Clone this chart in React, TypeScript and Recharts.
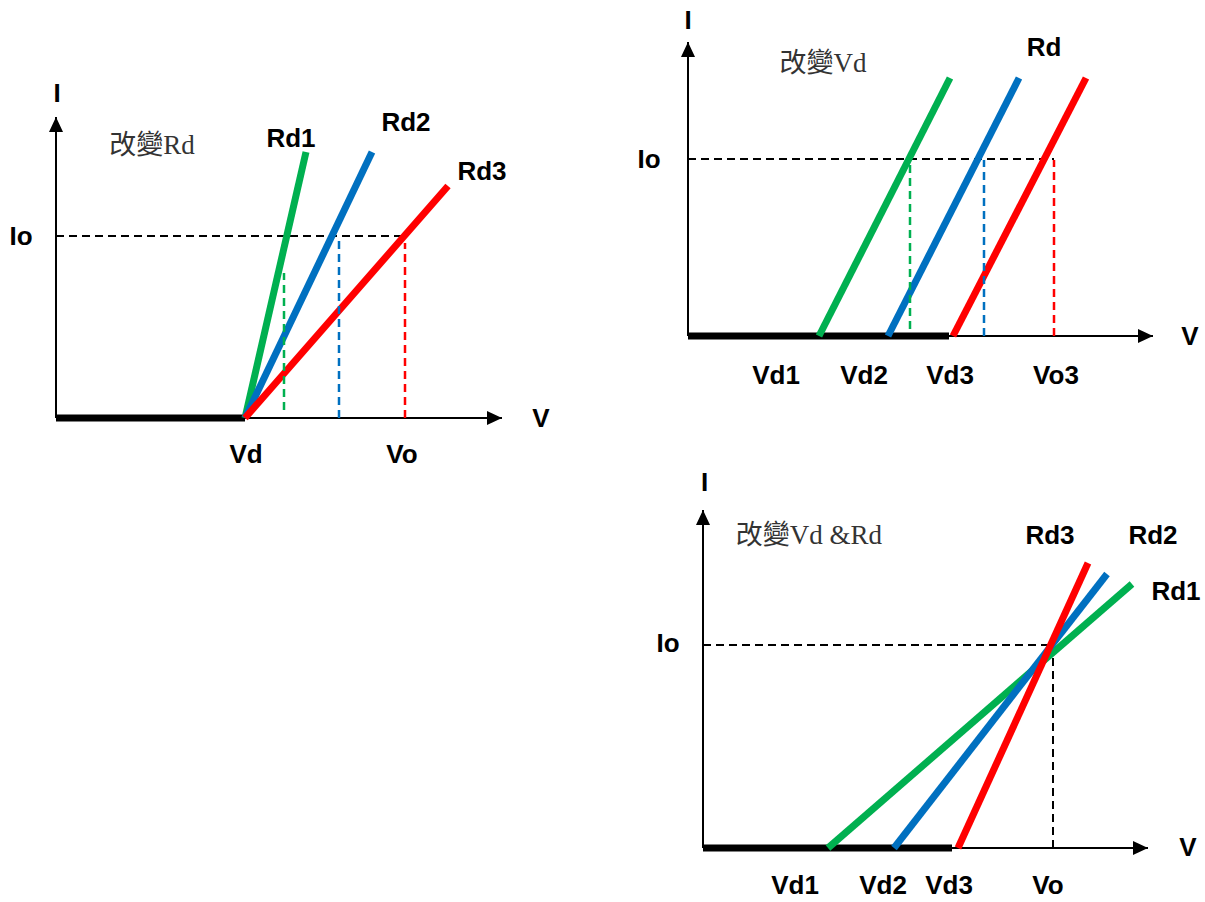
import { LineChart, Line, XAxis, YAxis, ReferenceDot } from 'recharts';

const GREEN = '#00b050';
const BLUE = '#0070c0';
const RED = '#ff0000';

type Pt = { v: number; i: number };
type Lbl = { text: string; v: number; i: number; kind: 'bold' | 'title' };

// ---- panel 1: 改變Rd (same Vd, three slopes) ----
const p1Knee: Pt[] = [{ v: 0, i: 0 }, { v: 189, i: 0 }];
const p1Rd1: Pt[] = [{ v: 189, i: 0 }, { v: 250, i: 266 }];
const p1Rd2: Pt[] = [{ v: 189, i: 0 }, { v: 316, i: 266 }];
const p1Rd3: Pt[] = [{ v: 189, i: 0 }, { v: 392, i: 232 }];
const p1Io: Pt[] = [{ v: 0, i: 182 }, { v: 349, i: 182 }];
const p1Drop1: Pt[] = [{ v: 228, i: 8 }, { v: 228, i: 145 }];
const p1Drop2: Pt[] = [{ v: 283, i: 0 }, { v: 283, i: 182 }];
const p1Drop3: Pt[] = [{ v: 349, i: 0 }, { v: 349, i: 175 }];
const p1Labels: Lbl[] = [
  { text: 'I', v: 1, i: 325, kind: 'bold' },
  { text: '改變Rd', v: 96, i: 273, kind: 'title' },
  { text: 'Rd1', v: 235, i: 280, kind: 'bold' },
  { text: 'Rd2', v: 350, i: 296, kind: 'bold' },
  { text: 'Rd3', v: 426, i: 247, kind: 'bold' },
  { text: 'Io', v: -35, i: 182, kind: 'bold' },
  { text: 'V', v: 485, i: 0, kind: 'bold' },
  { text: 'Vd', v: 190, i: -36, kind: 'bold' },
  { text: 'Vo', v: 346, i: -36, kind: 'bold' },
];

// ---- panel 2: 改變Vd (same slope, three knees) ----
const p2Knee: Pt[] = [{ v: 0, i: 0 }, { v: 261, i: 0 }];
const p2Vd1: Pt[] = [{ v: 131, i: 0 }, { v: 262, i: 258 }];
const p2Vd2: Pt[] = [{ v: 200, i: 0 }, { v: 331, i: 258 }];
const p2Vd3: Pt[] = [{ v: 265, i: 0 }, { v: 398, i: 258 }];
const p2Io: Pt[] = [{ v: 0, i: 177 }, { v: 366, i: 177 }];
const p2Drop1: Pt[] = [{ v: 222, i: 7 }, { v: 222, i: 172 }];
const p2Drop2: Pt[] = [{ v: 296, i: 0 }, { v: 296, i: 176 }];
const p2Drop3: Pt[] = [{ v: 366, i: 0 }, { v: 366, i: 176 }];
const p2Labels: Lbl[] = [
  { text: 'I', v: 0, i: 316, kind: 'bold' },
  { text: '改變Vd', v: 135, i: 273, kind: 'title' },
  { text: 'Rd', v: 356, i: 289, kind: 'bold' },
  { text: 'Io', v: -39, i: 177, kind: 'bold' },
  { text: 'V', v: 502, i: 0, kind: 'bold' },
  { text: 'Vd1', v: 88, i: -39, kind: 'bold' },
  { text: 'Vd2', v: 176, i: -39, kind: 'bold' },
  { text: 'Vd3', v: 262, i: -39, kind: 'bold' },
  { text: 'Vo3', v: 368, i: -39, kind: 'bold' },
];

// ---- panel 3: 改變Vd &Rd (all meet at Vo, Io) ----
const p3Knee: Pt[] = [{ v: 0, i: 0 }, { v: 249, i: 0 }];
const p3Rd1: Pt[] = [{ v: 125, i: 0 }, { v: 429, i: 264 }];
const p3Rd2: Pt[] = [{ v: 191, i: 0 }, { v: 404, i: 274 }];
const p3Rd3: Pt[] = [{ v: 255, i: 0 }, { v: 385, i: 285 }];
const p3Io: Pt[] = [{ v: 0, i: 203 }, { v: 350, i: 203 }];
const p3Drop: Pt[] = [{ v: 350, i: 0 }, { v: 350, i: 203 }];
const p3Labels: Lbl[] = [
  { text: 'I', v: 1.5, i: 366, kind: 'bold' },
  { text: '改變Vd &Rd', v: 106, i: 313, kind: 'title' },
  { text: 'Rd3', v: 347, i: 313, kind: 'bold' },
  { text: 'Rd2', v: 450, i: 313, kind: 'bold' },
  { text: 'Rd1', v: 473, i: 257, kind: 'bold' },
  { text: 'Io', v: -35, i: 205, kind: 'bold' },
  { text: 'V', v: 485, i: 1, kind: 'bold' },
  { text: 'Vd1', v: 92, i: -37, kind: 'bold' },
  { text: 'Vd2', v: 180, i: -37, kind: 'bold' },
  { text: 'Vd3', v: 246, i: -37, kind: 'bold' },
  { text: 'Vo', v: 345, i: -37, kind: 'bold' },
];

type Seg = { data: Pt[]; stroke: string; width: number; dash?: string };

const arrowDot = (dir: 'up' | 'right') => (props: any) => {
  const { cx, cy, index } = props;
  if (index !== 1) return <g key={`a${index}`} />;
  const pts =
    dir === 'right'
      ? `${cx},${cy} ${cx - 15},${cy - 7} ${cx - 15},${cy + 7}`
      : `${cx},${cy} ${cx - 7},${cy + 15} ${cx + 7},${cy + 15}`;
  return <polygon key={`a${index}`} points={pts} fill="#000" />;
};

const labelShape = (l: Lbl) => (p: any) =>
  (
    <text
      x={p.cx}
      y={p.cy}
      textAnchor="middle"
      dominantBaseline="central"
      fontFamily={
        l.kind === 'bold'
          ? "'Liberation Sans', Arial, sans-serif"
          : "'Liberation Serif', 'Noto Sans CJK TC', serif"
      }
      fontWeight={l.kind === 'bold' ? 'bold' : 'normal'}
      fontSize={l.kind === 'bold' ? 26 : 27}
      fill={l.kind === 'bold' ? '#000' : '#333'}
    >
      {l.text}
    </text>
  );

interface PanelProps {
  left: number;
  top: number;
  width: number;
  height: number;
  xDomain: [number, number];
  yDomain: [number, number];
  xEnd: number;
  yEnd: number;
  segs: Seg[];
  labels: Lbl[];
}

function Panel({ left, top, width, height, xDomain, yDomain, xEnd, yEnd, segs, labels }: PanelProps) {
  return (
    <div style={{ position: 'absolute', left, top }}>
      <LineChart width={width} height={height} margin={{ top: 0, right: 0, bottom: 0, left: 0 }}>
        <XAxis type="number" dataKey="v" domain={xDomain} allowDataOverflow hide />
        <YAxis type="number" domain={yDomain} allowDataOverflow hide />
        <Line
          data={[{ v: 0, i: 0 }, { v: xEnd, i: 0 }]}
          dataKey="i"
          stroke="#000"
          strokeWidth={2}
          dot={arrowDot('right')}
          activeDot={false}
          isAnimationActive={false}
        />
        <Line
          data={[{ v: 0, i: 0 }, { v: 0, i: yEnd }]}
          dataKey="i"
          stroke="#000"
          strokeWidth={2}
          dot={arrowDot('up')}
          activeDot={false}
          isAnimationActive={false}
        />
        {segs.map((s, k) => (
          <Line
            key={k}
            data={s.data}
            dataKey="i"
            type="linear"
            stroke={s.stroke}
            strokeWidth={s.width}
            strokeDasharray={s.dash}
            dot={false}
            activeDot={false}
            isAnimationActive={false}
          />
        ))}
        {labels.map((l, k) => (
          <ReferenceDot key={`l${k}`} x={l.v} y={l.i} r={0} shape={labelShape(l)} />
        ))}
      </LineChart>
    </div>
  );
}

const IO_DASH = '8 5';
const DROP_DASH = '8 5';

export default function App() {
  return (
    <div style={{ position: 'absolute', left: 0, top: 0, width: 1205, height: 902, background: '#fff' }}>
      <Panel
        left={0}
        top={60}
        width={580}
        height={440}
        xDomain={[-56, 524]}
        yDomain={[-82, 358]}
        xEnd={446}
        yEnd={301}
        segs={[
          { data: p1Io, stroke: '#000', width: 2, dash: IO_DASH },
          { data: p1Knee, stroke: '#000', width: 7 },
          { data: p1Rd1, stroke: GREEN, width: 7 },
          { data: p1Rd2, stroke: BLUE, width: 7 },
          { data: p1Rd3, stroke: RED, width: 7 },
          { data: p1Drop1, stroke: GREEN, width: 2.5, dash: DROP_DASH },
          { data: p1Drop2, stroke: BLUE, width: 2.5, dash: DROP_DASH },
          { data: p1Drop3, stroke: RED, width: 2.5, dash: DROP_DASH },
        ]}
        labels={p1Labels}
      />
      <Panel
        left={610}
        top={0}
        width={595}
        height={400}
        xDomain={[-78, 517]}
        yDomain={[-64, 336]}
        xEnd={465}
        yEnd={294}
        segs={[
          { data: p2Io, stroke: '#000', width: 2, dash: IO_DASH },
          { data: p2Knee, stroke: '#000', width: 7 },
          { data: p2Vd1, stroke: GREEN, width: 7 },
          { data: p2Vd2, stroke: BLUE, width: 7 },
          { data: p2Vd3, stroke: RED, width: 7 },
          { data: p2Drop1, stroke: GREEN, width: 2.5, dash: DROP_DASH },
          { data: p2Drop2, stroke: BLUE, width: 2.5, dash: DROP_DASH },
          { data: p2Drop3, stroke: RED, width: 2.5, dash: DROP_DASH },
        ]}
        labels={p2Labels}
      />
      <Panel
        left={620}
        top={460}
        width={585}
        height={442}
        xDomain={[-83, 502]}
        yDomain={[-54, 388]}
        xEnd={445}
        yEnd={338}
        segs={[
          { data: p3Io, stroke: '#000', width: 2, dash: IO_DASH },
          { data: p3Drop, stroke: '#000', width: 2, dash: IO_DASH },
          { data: p3Knee, stroke: '#000', width: 7 },
          { data: p3Rd1, stroke: GREEN, width: 7 },
          { data: p3Rd2, stroke: BLUE, width: 7 },
          { data: p3Rd3, stroke: RED, width: 7 },
        ]}
        labels={p3Labels}
      />
    </div>
  );
}
